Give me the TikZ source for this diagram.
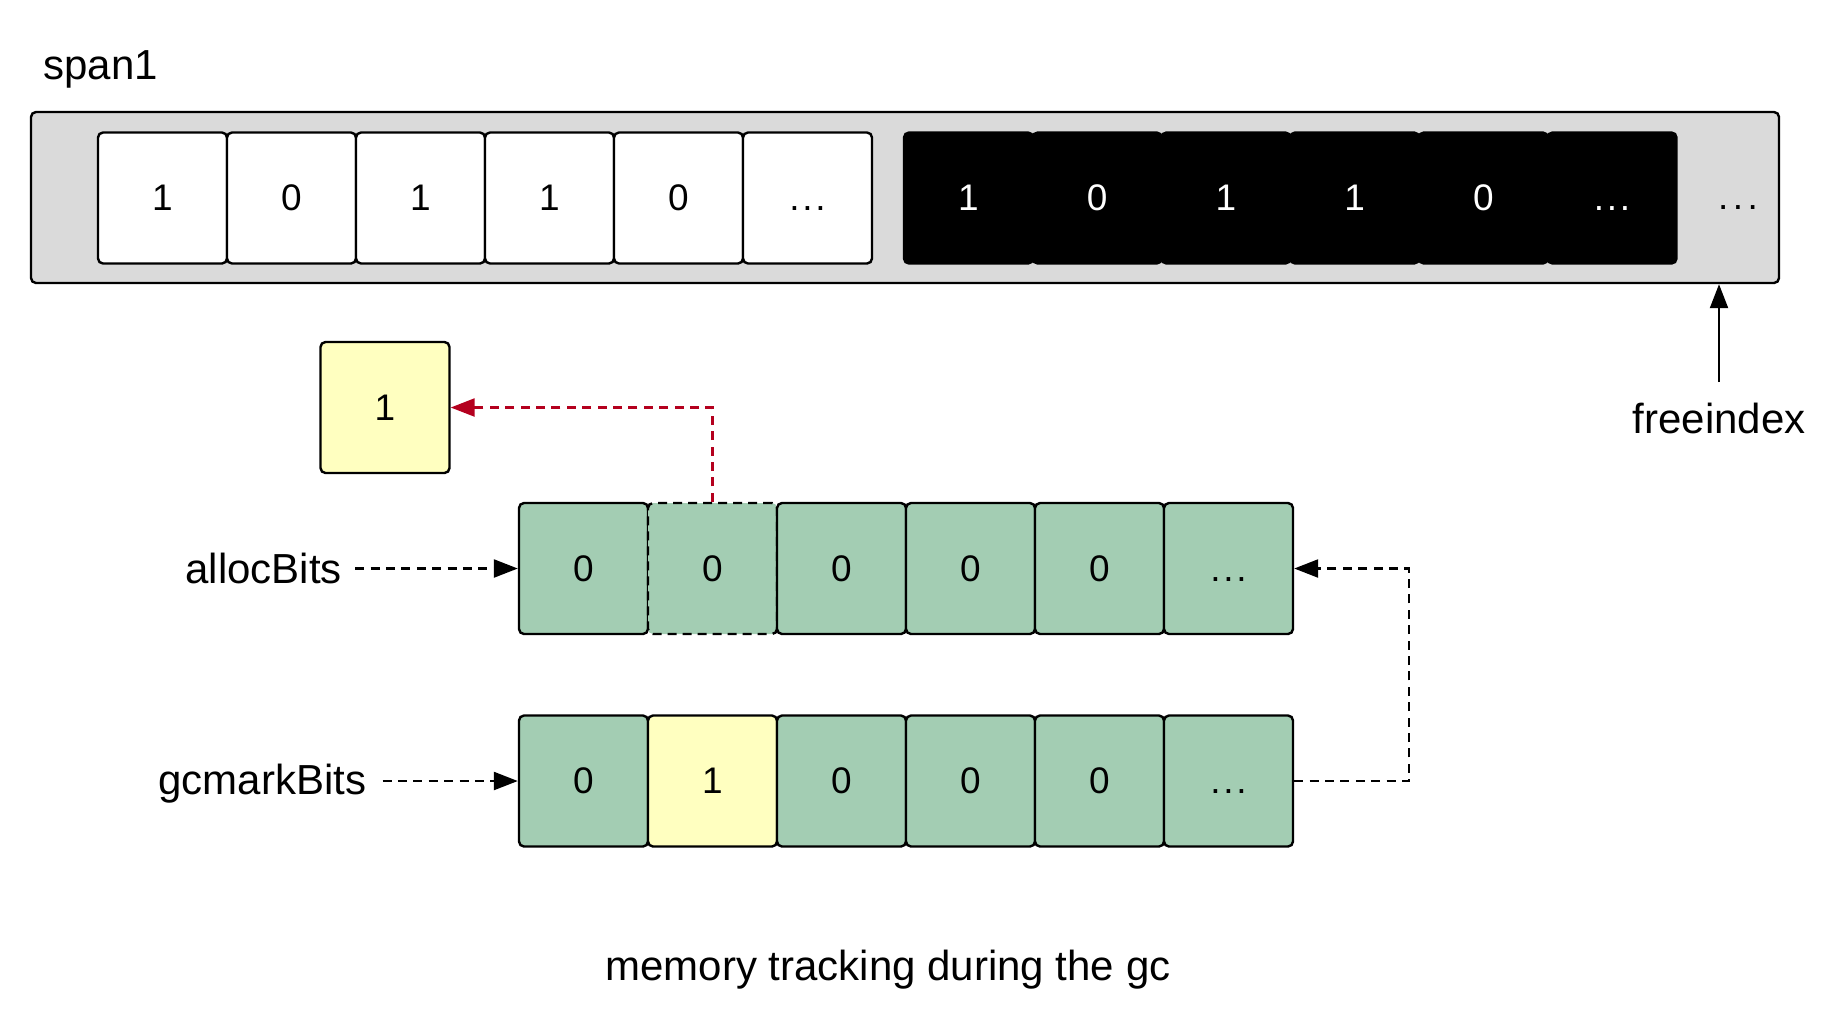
\documentclass[tikz,border=0pt]{standalone}
\usepackage{fontspec}
\setmainfont{Liberation Sans}
\usetikzlibrary{arrows.meta}
\definecolor{spangray}{RGB}{218,218,218}
\definecolor{bitgreen}{RGB}{163,205,179}
\definecolor{markyellow}{RGB}{255,255,192}
\definecolor{ptrred}{RGB}{180,0,30}
\newcommand\bitdots{\vphantom{0}.\kern1.4pt.\kern1.4pt.}
\begin{document}
\begin{tikzpicture}[x=0.5pt,y=-0.5pt,
  cell/.style={draw=black, line width=1.2pt, rounded corners=2.5pt,
    minimum width=64.5pt, minimum height=65.5pt, inner sep=0pt,
    font=\fontsize{18.5}{20}\selectfont, anchor=center},
  whitecell/.style={cell, fill=white},
  blackcell/.style={cell, fill=black, text=white},
  greencell/.style={cell, fill=bitgreen},
  dashcell/.style={cell, fill=bitgreen, dash pattern=on 4.5pt off 3pt},
  yellowcell/.style={cell, fill=markyellow},
  spanbox/.style={draw=black, line width=1.2pt, fill=spangray, rounded corners=2.5pt,
    minimum width=874pt, minimum height=85.5pt, inner sep=0pt},
  lbl/.style={font=\fontsize{21}{24}\selectfont, inner sep=0pt},
  dashline/.style={line width=1.2pt, dash pattern=on 4.5pt off 3.2pt},
  tip/.style={-{Triangle[length=12pt,width=9pt]}}
]
\useasboundingbox (0,0) rectangle (1846,1030);

% span
\node[lbl, anchor=base west] (title) at (43,79) {span1};
\node[spanbox] (span) at (905,197.5) {};
\foreach \v [count=\i] in {1,0,1,1,0,\bitdots}
  \node[whitecell] (w\i) at ({98+64.5+129*(\i-1)},198) {\v};
\foreach \v [count=\i] in {1,0,1,1,0,\bitdots}
  \node[blackcell] (b\i) at ({904+64.5+128.7*(\i-1)},198) {\v};
\node[font=\fontsize{18.5}{20}\selectfont, inner sep=0pt, anchor=base] (more) at (1738,209) {.\kern2.2pt.\kern2.2pt.};

% freeindex
\node[lbl, anchor=base] (free) at (1719,433) {freeindex};
\draw[line width=1.1pt, tip] ([yshift=10pt]free.north) -- (free.north |- span.south);

% allocBits row
\foreach \v/\s [count=\i] in {0/greencell,0/dashcell,0/greencell,0/greencell,0/greencell,\bitdots/greencell}
  \node[\s] (a\i) at ({519+64.5+129*(\i-1)},568.5) {\v};
% gcmarkBits row
\foreach \v/\s [count=\i] in {0/greencell,1/yellowcell,0/greencell,0/greencell,0/greencell,\bitdots/greencell}
  \node[\s] (g\i) at ({519+64.5+129*(\i-1)},781) {\v};

% yellow copied bit
\node[yellowcell] (y) at (385,407.5) {1};
\draw[dashline, draw=ptrred, -{Triangle[length=12pt,width=9pt,fill=ptrred]}] (a2.north) -- (a2.north |- y.east) -- (y.east);

% labels
\node[lbl, anchor=base west] (alab) at (185,583) {allocBits};
\draw[dashline, tip] ([xshift=6.5pt]alab.east |- a1.west) -- (a1.west);
\node[lbl, anchor=base west] (glab) at (158,794) {gcmarkBits};
\draw[dashline, tip] ([xshift=8pt]glab.east |- g1.west) -- (g1.west);

% loop from gcmarkBits to allocBits
\draw[dashline, tip] (g6.east) -- ++(115,0) |- (a6.east);

% caption
\node[lbl, anchor=base] (cap) at (888,980) {memory tracking during the gc};
\end{tikzpicture}
\end{document}
